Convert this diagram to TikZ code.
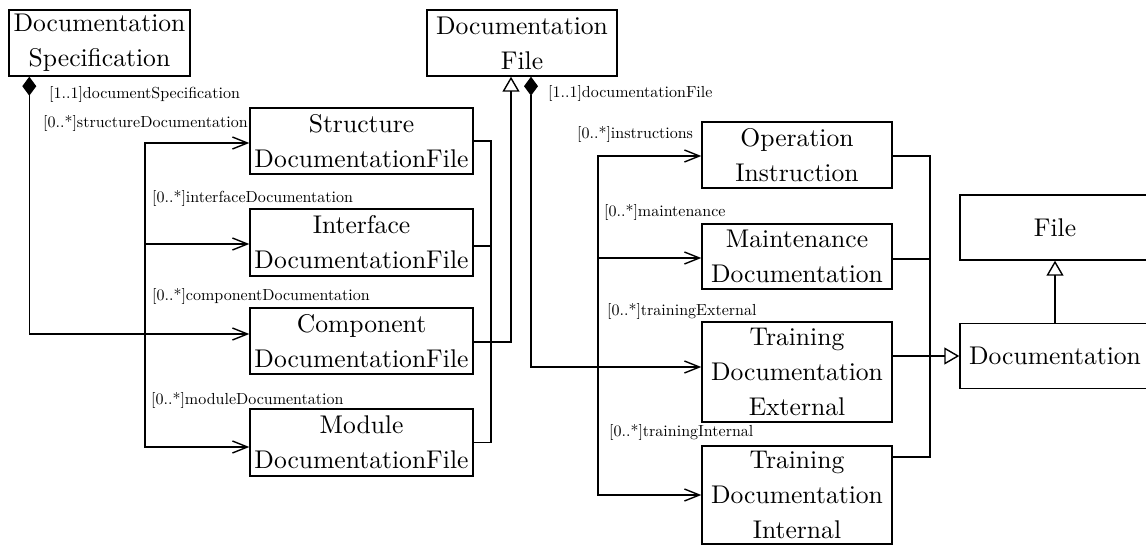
\documentclass[tikz,border=0pt]{standalone}
\usepackage{fontspec}
\setmainfont{lmroman10-regular}[Extension=.otf]
\usetikzlibrary{arrows.meta,calc}
\newcommand\bigfont{\fontsize{25.6}{35}\selectfont}
\newcommand\labfont{\fontsize{16}{19}\selectfont}
\tikzset{
  umlbox/.style={draw, line width=1.4pt, inner sep=0pt, align=center, font=\bigfont},
  lab/.style={anchor=west, inner sep=0pt, font=\labfont},
  conn/.style={line width=1.4pt},
  assoc/.style={conn, -{Straight Barb[length=15pt,width=12pt,line width=1.4pt]}},
  compo/.style={conn, {Diamond[length=19pt,width=14pt]}-{Straight Barb[length=15pt,width=12pt,line width=1.4pt]}},
  gen/.style={conn, -{Triangle[open,length=15pt,width=17pt,line width=1.4pt]}},
}
\begin{document}
\begin{tikzpicture}[x=1pt,y=-1pt]
\useasboundingbox (0,0) rectangle (1146,545);
% classes
\node[umlbox, minimum width=181pt, minimum height=66pt] (docspec) at (99.5,43) {Documentation\\Specification};
\node[umlbox, minimum width=190pt, minimum height=66pt] (docfile) at (522,43) {Documentation\\File};
\node[umlbox, minimum width=223pt, minimum height=66pt] (struct) at (361.5,141) {Structure\\DocumentationFile};
\node[umlbox, minimum width=223pt, minimum height=67pt] (iface) at (361.5,242.5) {Interface\\DocumentationFile};
\node[umlbox, minimum width=223pt, minimum height=66pt] (comp) at (361.5,341) {Component\\DocumentationFile};
\node[umlbox, minimum width=223pt, minimum height=67pt] (module) at (361.5,442.5) {Module\\DocumentationFile};
\node[umlbox, minimum width=190pt, minimum height=66pt] (oper) at (797,155) {Operation\\Instruction};
\node[umlbox, minimum width=190pt, minimum height=65pt] (maint) at (797,256.5) {Maintenance\\Documentation};
\node[umlbox, minimum width=190pt, minimum height=100pt] (trext) at (797,372) {Training\\Documentation\\External};
\node[umlbox, minimum width=190pt, minimum height=98pt] (trint) at (797,495) {Training\\Documentation\\Internal};
\node[umlbox, minimum width=190pt, minimum height=65pt] (file) at (1055,227.5) {File};
\node[umlbox, minimum width=190pt, minimum height=65pt] (doc) at (1055,356) {Documentation};
% junction coordinates
\coordinate (busL) at (145,334);
\coordinate (busG) at (491,342);
\coordinate (busR) at (598,367);
\coordinate (busG2) at (930,356);
% left composition
\draw[compo] ([xshift=21pt]docspec.south west) |- ([yshift=7pt]comp.west);
\draw[assoc] (busL) |- ([yshift=-2pt]struct.west);
\draw[assoc] (busL) |- ([yshift=-1.5pt]iface.west);
\draw[assoc] (busL) |- ([yshift=-4.5pt]module.west);
% left generalization
\draw[conn] (struct.east) -| (busG);
\draw[conn] ([yshift=-3.5pt]iface.east) -| (busG);
\draw[conn] (module.east) -| (busG);
\draw[gen] ([yshift=-1pt]comp.east) -| ([xshift=-11pt]docfile.south);
% right composition
\draw[compo] ([xshift=9pt]docfile.south) |- ([yshift=5pt]trext.west);
\draw[assoc] (busR) |- ([yshift=-1pt]oper.west);
\draw[assoc] (busR) |- ([yshift=-1.5pt]maint.west);
\draw[assoc] (busR) |- (trint.west);
% right generalization
\draw[conn] ([yshift=-1pt]oper.east) -| (busG2);
\draw[conn] ([yshift=-2.5pt]maint.east) -| (busG2);
\draw[conn] ([yshift=38pt]trint.east) -| (busG2);
\draw[gen] ([yshift=16pt]trext.east) -- (doc.west);
\draw[gen] (doc.north) -- (file.south);
% labels
\node[lab] (l1) at (49,95) {[1..1]documentSpecification};
\node[lab] (l2) at (43,124) {[0..*]structureDocumentation};
\node[lab] (l3) at (152,199) {[0..*]interfaceDocumentation};
\node[lab] (l4) at (152,297) {[0..*]componentDocumentation};
\node[lab] (l5) at (151,400) {[0..*]moduleDocumentation};
\node[lab] (l6) at (548,94) {[1..1]documentationFile};
\node[lab] (l7) at (577,135) {[0..*]instructions};
\node[lab] (l8) at (604,213) {[0..*]maintenance};
\node[lab] (l9) at (607,312) {[0..*]trainingExternal};
\node[lab] (l10) at (609,432) {[0..*]trainingInternal};
\end{tikzpicture}
\end{document}
